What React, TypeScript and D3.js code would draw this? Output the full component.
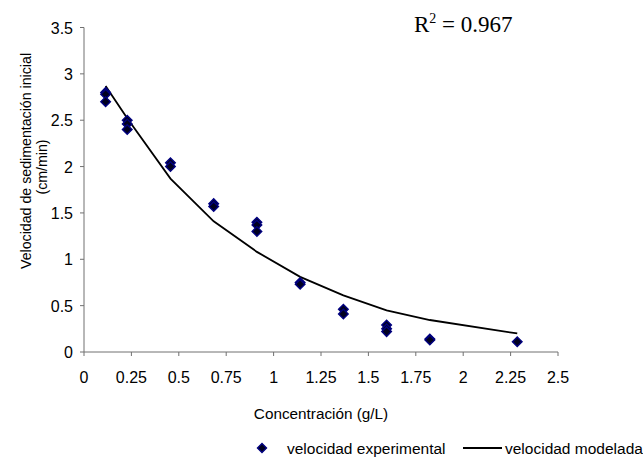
import React from "react";
import * as d3 from "d3";

const expX: number[] = [0.114, 0.114, 0.114, 0.228, 0.228, 0.228, 0.456, 0.456, 0.684, 0.684, 0.912, 0.912, 0.912, 1.14, 1.14, 1.368, 1.368, 1.596, 1.596, 1.596, 1.824, 1.824, 2.285];
const expY: number[] = [2.8, 2.78, 2.7, 2.5, 2.46, 2.4, 2.04, 2.0, 1.6, 1.57, 1.4, 1.37, 1.3, 0.75, 0.73, 0.46, 0.41, 0.29, 0.25, 0.22, 0.14, 0.13, 0.11];
const modX: number[] = [0.114, 0.228, 0.456, 0.684, 0.912, 1.14, 1.368, 1.596, 1.824, 2.285];
const modY: number[] = [2.87, 2.52, 1.87, 1.41, 1.08, 0.81, 0.61, 0.45, 0.345, 0.2];
const xTicks: number[] = [0, 0.25, 0.5, 0.75, 1, 1.25, 1.5, 1.75, 2, 2.25, 2.5];
const yTicks: number[] = [0, 0.5, 1, 1.5, 2, 2.5, 3, 3.5];

const sans = "'Liberation Sans', Arial, sans-serif";
const serif = "'Liberation Serif', 'Times New Roman', serif";

export default function App() {
  const x = d3.scaleLinear().domain([0, 2.5]).range([84, 558]);
  const y = d3.scaleLinear().domain([0, 3.5]).range([352, 27.5]);
  const line = d3.line<number>().x((_, i) => x(modX[i])).y((d) => y(d));
  const diamond = (cx: number, cy: number, r: number) =>
    `M${cx},${cy - r}L${cx + r},${cy}L${cx},${cy + r}L${cx - r},${cy}Z`;
  const axisColor = "#707070";
  return (
    <svg width={643} height={457} style={{ position: "absolute", left: 0, top: 0 }}>
      <rect width={643} height={457} fill="#fff" />
      <line x1={x(0)} x2={x(0)} y1={y(3.5)} y2={y(0)} stroke={axisColor} strokeWidth={1} />
      <line x1={x(0)} x2={x(2.5)} y1={y(0)} y2={y(0)} stroke={axisColor} strokeWidth={1} />
      {yTicks.map((t) => (
        <g key={"y" + t}>
          <line x1={x(0) - 4} x2={x(0)} y1={y(t)} y2={y(t)} stroke={axisColor} />
          <text x={73} y={y(t) + 6} textAnchor="end" fontFamily={sans} fontSize={16} fill="#000">
            {t}
          </text>
        </g>
      ))}
      {xTicks.map((t) => (
        <g key={"x" + t}>
          <line x1={x(t)} x2={x(t)} y1={y(0)} y2={y(0) + 4} stroke={axisColor} />
          <text x={x(t)} y={383} textAnchor="middle" fontFamily={sans} fontSize={16} fill="#000">
            {t}
          </text>
        </g>
      ))}
      <path d={line(modY) || ""} fill="none" stroke="#000" strokeWidth={1.8} />
      {expY.map((v, i) => (
        <path key={"p" + i} d={diamond(x(expX[i]), y(v), 4.8)} fill="#000020" stroke="#000080" strokeWidth={1.4} />
      ))}
      <text x={321} y={419} textAnchor="middle" fontFamily={sans} fontSize={15.3} fill="#000">
        Concentración (g/L)
      </text>
      <text transform="translate(31,161) rotate(-90)" textAnchor="middle" fontFamily={sans} fontSize={14.2} fill="#000">
        Velocidad de sedimentación inicial
      </text>
      <text transform="translate(47,167) rotate(-90)" textAnchor="middle" fontFamily={sans} fontSize={14.2} fill="#000">
        (cm/min)
      </text>
      <text x={414} y={32} fontFamily={serif} fontSize={23} fill="#000">
        R<tspan fontSize={14} dy={-9}>2</tspan>
        <tspan dy={9}> = 0.967</tspan>
      </text>
      <path d={diamond(262, 448, 4.5)} fill="#000020" stroke="#000080" strokeWidth={1.4} />
      <text x={287} y={454} fontFamily={sans} fontSize={15.5} fill="#000">
        velocidad experimental
      </text>
      <line x1={463} x2={502} y1={448} y2={448} stroke="#000" strokeWidth={1.8} />
      <text x={505} y={454} fontFamily={sans} fontSize={15.5} fill="#000">
        velocidad modelada
      </text>
    </svg>
  );
}
